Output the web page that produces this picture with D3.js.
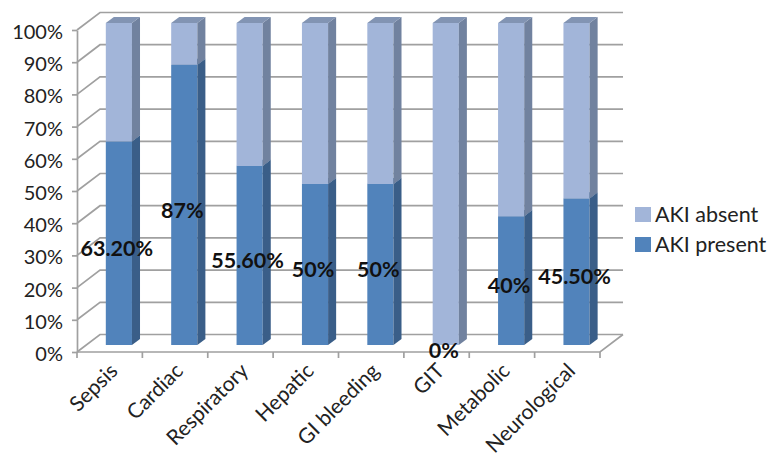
<!DOCTYPE html>
<html>
<head>
<meta charset="utf-8">
<script src="https://cdn.jsdelivr.net/npm/d3@7"></script>
<style>
  html, body { margin: 0; padding: 0; background: #fff; }
  svg { display: block; font-family: Lato, "Open Sans", sans-serif; }
</style>
</head>
<body>
<svg id="chart" width="769" height="462"></svg>
<script>
const categories = ["Sepsis", "Cardiac", "Respiratory", "Hepatic", "GI bleeding", "GIT", "Metabolic", "Neurological"];
const akiPresent = [63.2, 87, 55.6, 50, 50, 0, 40, 45.5];
const akiAbsent  = [36.8, 13, 44.4, 50, 50, 100, 60, 54.5];
const presentLabels = ["63.20%", "87%", "55.60%", "50%", "50%", "0%", "40%", "45.50%"];
const yTicks = [0, 10, 20, 30, 40, 50, 60, 70, 80, 90, 100];
const seriesNames = ["AKI absent", "AKI present"];

const svg = d3.select("#chart");

const DX = 23, DY = -17.5;          // depth offset of back wall
const F_FRONT = 0.4, F_BACK = 0.75; // bar depth position

const x = d3.scaleBand().domain(categories).range([77, 600]).paddingInner(0.6).paddingOuter(0.3);
const y = d3.scaleLinear().domain([0, 100]).range([352, 30]);

const P = (px, v, f) => [px + f * DX, y(v) + f * DY];
const gridColor = "#a0a0a0";

// walls / gridlines
const grid = svg.append("g").attr("fill", "none").attr("stroke", gridColor).attr("stroke-width", 1.7);
const x0 = x.range()[0], x1 = x.range()[1];
yTicks.forEach(t => {
  const a = P(x0, t, 0), b = P(x0, t, 1), c = P(x1, t, 1);
  grid.append("path").attr("d", d3.line()([a, b, c]));
});
// floor
grid.append("path").attr("d", d3.line()([P(x0, 0, 0), P(x1, 0, 0), P(x1, 0, 1)]));

// Y axis
const yAxis = d3.axisLeft(y).tickValues(yTicks).tickFormat(d => d + "%").tickSize(5).tickSizeOuter(0).tickPadding(9);
const gy = svg.append("g").attr("transform", `translate(${x0},0)`).call(yAxis);
gy.select(".domain").attr("stroke", gridColor).attr("stroke-width", 1.7);
gy.selectAll(".tick line").attr("stroke", gridColor).attr("stroke-width", 1.7);
gy.selectAll(".tick text").attr("font-size", 20).attr("fill", "#222").attr("font-family", "Lato").attr("dy", "0.42em");

// X ticks at category boundaries
const step = x.step();
const boundaries = d3.range(categories.length + 1).map(i => x0 + i * step);
svg.append("g").selectAll("line").data(boundaries).join("line")
  .attr("x1", d => d).attr("x2", d => d).attr("y1", y(0)).attr("y2", y(0) + 6)
  .attr("stroke", gridColor).attr("stroke-width", 1.7);

// Category labels
svg.append("g").selectAll("text").data(categories).join("text")
  .attr("transform", d => `translate(${x(d) + x.bandwidth() / 2 + 4},${y(0) + 15}) rotate(-45)`)
  .attr("text-anchor", "end").attr("dy", "0.35em")
  .attr("font-size", 21).attr("fill", "#222")
  .text(d => d);

// Bars
const colors = {
  present: { front: "#5183bb", side: "#3a5e88", top: "#46719f" },
  absent:  { front: "#a2b5d9", side: "#71829f", top: "#8294b3" }
};
function prism(g, px, w, v0, v1, c) {
  if (v1 - v0 <= 0) return;
  g.append("path").attr("fill", c.front)
    .attr("d", d3.line()([P(px, v0, F_FRONT), P(px + w, v0, F_FRONT), P(px + w, v1, F_FRONT), P(px, v1, F_FRONT)]) + "Z");
  g.append("path").attr("fill", c.side)
    .attr("d", d3.line()([P(px + w, v0, F_FRONT), P(px + w, v1, F_FRONT), P(px + w, v1, F_BACK), P(px + w, v0, F_BACK)]) + "Z");
  g.append("path").attr("fill", c.top)
    .attr("d", d3.line()([P(px, v1, F_FRONT), P(px + w, v1, F_FRONT), P(px + w, v1, F_BACK), P(px, v1, F_BACK)]) + "Z");
}
const bars = svg.append("g");
categories.forEach((cat, i) => {
  const g = bars.append("g");
  const px = x(cat), w = x.bandwidth();
  prism(g, px, w, 0, akiPresent[i], colors.present);
  prism(g, px, w, akiPresent[i], akiPresent[i] + akiAbsent[i], colors.absent);
});

// Data labels
svg.append("g").selectAll("text").data(categories).join("text")
  .attr("x", (d, i) => P(x(d) + x.bandwidth() / 2, 0, F_FRONT)[0] - 2)
  .attr("y", (d, i) => P(0, akiPresent[i] / 2, F_FRONT)[1] + 5)
  .attr("text-anchor", "middle").attr("dy", "0.36em")
  .attr("font-size", 21.5).attr("font-weight", "bold").attr("fill", "#111")
  .text((d, i) => presentLabels[i]);

// Legend
const legend = svg.append("g");
const legendColors = [colors.absent.front, colors.present.front];
seriesNames.forEach((name, i) => {
  const ly = 207 + i * 30;
  legend.append("rect").attr("x", 635).attr("y", ly).attr("width", 16).attr("height", 15).attr("fill", legendColors[i]);
  legend.append("text").attr("x", 655).attr("y", ly + 14.5).attr("font-size", 21.5).attr("fill", "#222").text(name);
});
</script>
</body>
</html>
